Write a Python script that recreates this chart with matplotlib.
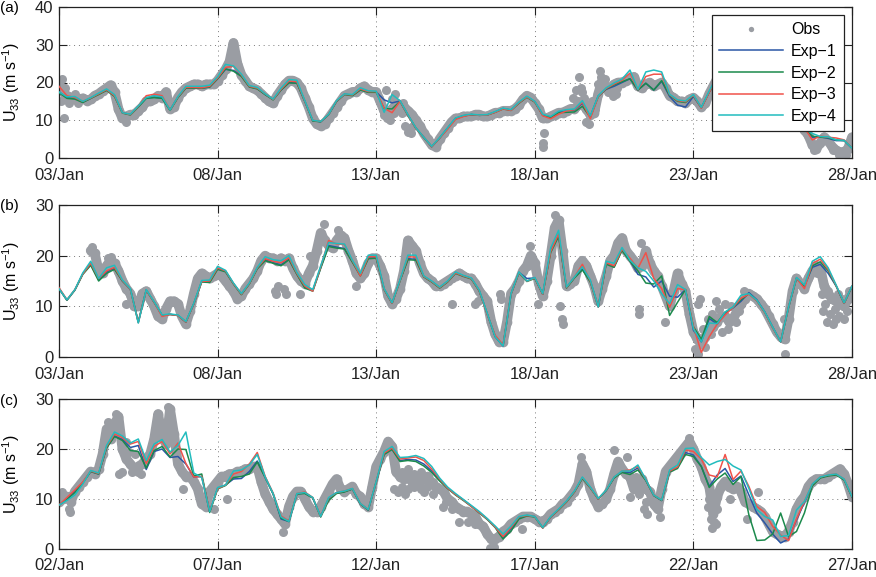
import numpy as np
import pandas as pd
import matplotlib
matplotlib.use('Agg')
import matplotlib.pyplot as plt
import matplotlib.dates as mdates

plt.rcParams['font.family'] = ['Liberation Sans', 'DejaVu Sans']
plt.rcParams['mathtext.default'] = 'regular'

# ---------------- data ----------------
start_ab = '2015-01-03'
start_c = '2015-01-02'
series_labels = ['Obs', 'Exp\u22121', 'Exp\u22122', 'Exp\u22123', 'Exp\u22124']
panel_labels = ['(a)', '(b)', '(c)']
ylabel_text = r'U$_{33}$ (m s$^{-1}$)'

# Panel (a): 6-hourly model series
a_exp1 = [17.5,16.0,15.8,14.8,15.8,17.0,18.0,16.5,12.0,11.5, 13.6,15.9,16.1,15.9,12.7,16.1,18.6,18.5,18.5,18.8,
          21.0,23.5,23.2,21.8,18.9,18.4,16.8,15.5,18.0,20.0, 19.9,15.0,9.9,9.6,11.5,15.0,16.9,16.6,18.1,17.5,
          17.5,15.4,14.6,15.1,11.4,7.9,5.5,3.0,5.3,7.9, 10.5,11.2,11.5,11.3,11.4,12.2,13.1,12.7,14.6,16.2,
          14.9,11.4,10.8,12.2,12.6,12.7,14.5,11.0,16.4,18.2, 19.0,20.0,21.0,18.0,19.8,18.0,20.3,16.3,14.0,13.5,
          16.3,13.3,17.5,20.5,21.3,20.2,18.9,17.5,16.5,15.1, 13.7,12.2,10.8,9.3,7.9,5.5,5.6,5.2,4.6,4.6, 2.6]
a_exp2 = [17.3,15.8,15.6,14.7,15.8,16.8,17.9,16.3,11.9,11.4, 13.5,15.8,16.0,15.8,12.6,16.0,18.5,18.5,18.5,18.8,
          21.0,23.6,23.0,21.6,18.8,18.3,16.8,15.4,18.0,19.9, 19.8,15.0,9.8,9.6,11.5,15.0,16.8,16.5,18.0,17.4,
          17.4,13.1,13.0,15.0,11.3,7.9,5.4,3.0,5.3,7.8, 10.4,11.1,11.5,11.3,11.4,12.1,13.0,12.6,14.5,16.1,
          14.8,11.3,10.7,12.0,12.1,12.2,13.7,10.8,16.3,18.3, 19.4,20.2,21.0,18.0,19.8,18.0,20.5,16.6,15.0,14.7,
          16.5,13.3,17.5,20.8,21.5,20.3,19.0,17.6,16.6,15.2, 13.8,12.3,10.8,9.4,7.8,5.8,5.5,5.4,4.8,4.6, 2.6]
a_exp3 = [19.0,16.5,16.0,15.0,15.9,17.0,18.1,16.5,12.0,11.5, 13.7,16.5,16.9,16.5,12.7,16.2,18.7,18.7,18.6,19.0,
          21.2,24.0,24.3,22.0,19.0,18.5,17.0,15.5,18.2,20.4, 20.2,15.1,10.0,9.7,11.6,15.1,16.9,16.7,18.3,17.6,
          17.6,13.2,12.0,15.0,11.4,7.9,5.5,3.0,5.3,7.6, 10.2,11.0,11.5,11.3,11.4,12.1,13.0,12.6,14.6,16.2,
          14.9,11.2,10.4,11.6,12.5,12.8,14.8,10.4,16.3,18.4, 19.6,20.6,22.5,18.1,21.6,22.2,22.2,16.8,15.2,14.9,
          16.6,13.2,17.4,21.2,22.0,20.6,19.2,17.8,16.8,15.3, 13.9,12.4,10.9,9.4,8.0,4.8,5.8,5.5,5.3,4.8, 2.6]
a_exp4 = [17.5,16.2,16.3,15.0,16.0,17.2,18.3,16.8,12.0,11.6, 13.8,16.0,16.5,16.2,12.7,16.3,19.0,19.0,19.0,19.3,
          21.5,24.8,24.4,22.2,19.2,18.7,17.0,15.6,18.5,20.8, 20.6,15.2,10.0,9.7,11.6,15.2,17.0,16.8,18.6,17.8,
          17.7,12.1,16.8,15.2,11.5,8.0,5.5,3.1,5.4,8.0, 10.6,11.3,11.6,11.4,11.5,12.3,13.2,12.8,14.8,16.4,
          15.0,11.6,11.0,12.4,12.8,13.0,15.2,11.2,16.5,18.6, 19.9,20.9,23.3,18.2,22.8,23.3,22.8,16.9,15.4,15.1,
          16.8,13.4,17.8,21.7,22.5,21.0,19.5,18.0,17.0,15.5, 14.0,12.5,11.0,9.5,7.8,6.5,5.7,5.6,4.8,4.7, 2.6]
# Panel (a): 3-hourly observations
a_obs = [19.5,17.5,16.5,16.0,15.5,15.5,15.8,15.2,
         15.5,16.5,17.0,17.8,18.5,19.3,17.5,13.0,
         10.5,11.0,11.5,11.5,12.5,13.5,15.0,15.0,
         15.5,16.5,16.0,17.5,13.0,13.5,16.0,17.5,
         18.5,19.0,19.5,19.5,19.0,19.5,19.5,19.5,
         20.5,22.0,23.5,25.5,30.5,25.0,22.0,20.5,
         19.0,18.5,18.0,17.0,16.0,15.0,14.5,16.5,
         18.0,19.5,20.5,20.5,20.0,18.5,16.0,13.5,
         10.5,9.0,8.5,9.0,10.5,12.0,13.5,15.0,
         16.5,17.0,17.5,17.5,18.5,19.0,18.0,17.5,
         17.5,15.0,12.5,11.5,13.0,14.0,14.0,13.5,
         12.5,11.5,10.0,8.5,6.5,5.0,3.5,3.0,
         5.0,6.5,8.0,9.5,10.5,10.5,11.0,11.0,
         11.0,11.5,11.5,11.0,11.0,11.5,12.0,12.0,
         12.5,12.5,12.5,13.0,14.0,15.5,16.5,16.0,
         14.5,13.0,10.5,10.5,11.0,11.5,12.0,12.0,
         12.5,13.0,13.0,14.0,14.5,13.0,11.5,12.0,
         17.0,20.5,18.5,18.5,19.5,20.0,20.0,20.5,
         21.0,21.5,19.0,18.5,19.5,20.0,19.0,19.5,
         20.0,18.5,16.5,16.0,15.0,15.0,14.5,15.5,
         16.0,15.0,13.5,14.5,17.0,19.0,21.0,21.5,
         21.5,21.0,20.0,19.0,18.5,18.0,17.5,17.0,
         16.5,16.0,15.0,14.5,14.0,13.0,12.5,12.0,
         10.5,10.0,9.0,8.5,7.5,6.0,3.5,2.5,
         4.0,5.5,4.5,3.0,2.0,1.5,1.5,2.5,
         5.5]
a_extra_day = [0.05,0.1,0.15,0.2,0.3,0.5,0.6,2.1,
               10.1,10.2,10.25,10.3,10.35,10.4,10.45,10.5,10.55,10.6,10.65,10.75,10.8,10.85,10.9,10.95,
               11.0,11.05,11.1,11.15,15.25,15.25,15.3,
               16.2,16.3,16.35,16.4,16.45,16.5,16.55,16.6,16.65,16.7,16.75,16.8,16.9,17.0,17.05,17.1,
               17.2,17.3,17.4,17.45,17.5,17.55,17.6,23.8,24.4,24.6,24.8]
a_extra_val = [15.0,21.0,10.5,18.5,14.5,17.0,14.5,9.5,
               16.0,13.0,11.5,18.0,10.5,11.0,10.0,15.5,12.0,17.0,14.5,13.0,12.0,14.5,8.5,12.5,
               7.0,8.0,6.5,8.5,4.0,2.8,6.5,
               16.0,18.0,15.0,21.5,18.5,17.5,16.0,9.5,14.0,9.0,12.5,15.0,13.0,19.5,23.0,21.5,
               21.0,17.5,18.0,16.5,19.0,17.0,18.5,2.0,2.0,0.8,0.8]

# Panel (b)
b_exp1 = [13.5,11.2,13.2,16.4,18.3,15.2,16.8,17.5,15.0,13.4, 6.9,13.2,10.8,8.2,8.4,8.2,6.9,10.5,14.9,14.9,
          17.5,16.9,14.5,12.4,14.5,17.5,19.2,18.6,18.2,19.3, 16.4,13.8,13.1,17.6,22.0,21.7,21.4,18.8,16.2,19.5,
          19.6,13.4,10.6,15.1,19.4,19.3,15.9,14.9,13.7,14.9, 16.6,16.0,15.5,13.1,8.5,4.0,2.2,12.4,16.7,15.5,
          15.6,12.4,21.0,24.0,13.7,15.7,17.3,15.0,9.9,18.5, 17.8,21.2,19.0,16.3,15.8,13.8,15.0,12.0,11.8,13.3,
          5.3,3.0,7.6,6.5,8.7,9.7,11.0,12.7,11.3,8.9, 5.9,3.0,9.8,15.6,14.0,17.7,18.3,16.5,14.0,10.6, 13.9]
b_exp2 = [13.5,11.2,13.2,16.3,18.1,15.0,16.5,17.3,15.0,13.4, 6.9,13.2,10.8,8.2,8.4,8.2,6.9,10.5,14.8,14.7,
          17.3,16.8,14.4,12.3,14.4,17.4,19.0,18.5,18.0,19.2, 16.3,13.6,13.0,17.5,21.8,21.5,21.3,18.7,16.0,19.4,
          19.5,13.3,10.6,15.0,19.2,19.1,15.8,14.8,13.6,14.8, 16.5,15.9,15.4,13.0,8.5,4.1,2.3,12.4,16.6,14.9,
          15.5,12.4,20.6,23.8,13.6,15.6,17.2,14.8,9.9,18.3, 17.7,21.0,18.9,17.0,14.6,14.4,16.0,8.2,10.8,13.3,
          6.0,3.5,8.0,6.8,8.8,9.8,11.3,12.5,11.1,8.8, 5.8,3.0,9.8,15.5,14.0,18.0,18.8,17.0,14.0,10.6, 13.9]
b_exp3 = [13.7,11.3,13.3,16.4,18.5,15.5,17.0,17.7,15.1,13.4, 6.8,13.2,10.8,8.0,8.4,8.2,6.9,10.5,14.9,15.0,
          17.6,17.0,14.5,12.4,14.5,17.6,19.4,18.9,18.6,19.6, 16.5,14.0,13.0,17.8,23.0,22.3,22.2,19.0,16.0,19.8,
          19.8,13.4,10.6,15.1,19.8,19.7,15.9,14.9,13.7,14.9, 16.6,16.0,15.5,13.1,8.4,4.3,2.4,12.4,16.7,15.0,
          15.6,12.4,20.8,24.3,13.7,15.8,18.3,15.0,9.9,18.6, 18.0,21.3,19.5,17.5,20.6,15.5,13.5,9.8,13.5,13.3,
          6.0,0.9,4.0,6.5,8.3,9.8,11.6,12.4,11.1,8.8, 5.8,3.0,9.9,15.6,13.5,18.5,19.3,17.3,14.1,10.6, 14.0]
b_exp4 = [13.5,11.3,13.3,16.6,18.9,15.5,17.6,18.1,15.2,13.5, 6.7,13.3,10.9,8.3,8.5,8.3,7.0,10.6,15.1,15.2,
          17.9,17.1,14.6,12.5,14.6,17.7,19.8,19.2,19.0,20.0, 16.7,14.3,13.3,18.0,22.6,22.4,22.3,19.1,16.5,20.1,
          20.1,13.5,10.7,15.2,20.1,20.1,16.0,15.0,13.8,15.0, 16.8,16.1,15.6,13.2,8.6,4.0,2.2,12.5,16.8,15.0,
          15.7,12.5,21.5,25.0,13.8,15.8,17.8,15.2,9.9,18.9, 18.5,21.6,19.1,17.6,16.9,15.0,12.5,10.5,14.3,13.3,
          5.6,3.0,6.7,6.6,8.9,9.9,12.2,12.5,11.2,8.9, 5.9,3.0,9.9,15.7,14.2,18.9,19.8,17.6,14.2,10.7, 14.0]
nan = float('nan')
b_obs = [nan,nan,nan,nan,nan,nan,nan,nan,
         21.0,20.5,17.0,16.5,18.0,19.0,18.5,17.0,
         15.0,13.5,12.5,10.0,10.0,12.5,13.0,11.5,
         10.0,8.0,7.5,9.5,11.0,11.0,10.5,8.0,
         6.5,9.0,12.5,15.5,16.5,16.0,15.5,16.0,
         16.5,16.0,15.0,14.0,13.0,11.5,12.0,13.5,
         14.5,15.5,17.0,19.0,20.0,19.5,19.5,19.0,
         19.5,19.0,19.5,17.5,16.0,15.0,14.5,16.5,
         18.0,21.0,24.5,23.0,22.0,21.5,23.0,24.0,
         23.5,21.0,19.0,16.5,15.5,16.5,18.5,19.5,
         19.5,18.0,16.0,12.0,10.5,11.5,13.5,17.0,
         23.0,22.0,21.0,18.5,16.5,15.5,15.0,14.0,
         14.0,14.5,15.0,15.5,16.0,16.5,16.0,15.5,
         15.5,14.5,13.0,12.0,11.0,7.0,4.5,3.0,
         3.0,7.0,12.5,13.5,15.0,17.0,18.0,20.0,
         18.5,14.5,12.0,15.0,20.0,25.5,27.0,21.0,
         14.0,14.5,15.0,18.0,19.0,18.0,16.0,14.0,
         11.0,13.5,16.0,19.0,20.0,22.5,23.5,21.0,
         20.0,19.0,17.5,18.0,21.0,18.5,17.0,16.0,
         14.0,12.0,10.0,13.0,16.5,14.5,13.0,8.5,
         5.0,3.5,2.5,4.0,5.0,6.0,7.0,8.0,
         8.0,7.0,7.5,9.0,10.5,11.5,12.5,12.0,
         11.5,10.5,9.5,8.0,6.5,5.0,4.0,3.5,
         7.5,13.0,15.5,14.5,13.5,15.5,17.0,18.0,
         17.5,14.0,12.5,11.5,11.0,10.5,10.0,11.5,
         13.0]
b_extra_day = [1.05,1.1,1.55,1.65,2.1,6.8,6.85,6.9,7.1,7.15,7.6,7.9,8.35,8.8,9.35,12.4,13.1,13.2,
               13.9,13.95,14.85,15.1,15.65,15.8,15.85,15.9,18.3,18.3,18.35,19.1,
               20.05,20.1,20.15,20.15,20.2,20.3,20.35,20.45,20.55,20.6,20.7,20.8,20.9,21.0,21.1,21.2,
               21.35,21.45,21.6,22.85,22.9,23.9,
               24.05,24.1,24.15,24.2,24.25,24.3,24.35,24.4,24.45,24.5,24.55,24.6,24.7,24.75,24.85,24.9]
b_extra_val = [21.8,20.5,19.5,19.8,10.5,13.0,12.5,14.0,13.5,12.5,12.5,20.0,26.3,25.0,14.0,10.5,10.5,11.0,
               12.5,11.5,22.0,10.5,28.0,10.0,7.5,6.5,8.5,9.5,22.5,7.0,
               1.5,4.0,10.5,0.5,11.5,5.5,2.0,7.5,4.5,8.5,11.0,9.5,5.0,10.5,5.5,10.0,
               7.0,9.0,13.0,7.5,0.5,16.5,
               12.5,9.0,10.5,7.0,13.0,8.5,11.5,6.5,9.5,7.5,12.5,8.0,11.5,7.5,9.0,13.0]

# Panel (c)
c_exp1 = [8.8,10.0,11.5,13.3,15.5,15.0,20.3,22.6,21.9,20.3, 20.7,15.9,19.5,20.0,18.3,18.5,17.0,14.4,14.5,7.5,
          12.1,12.8,14.0,14.1,15.5,17.6,14.3,11.0,6.0,5.5, 11.0,11.2,10.2,6.5,10.0,11.2,11.5,12.0,9.0,7.8,
          13.4,19.0,20.0,17.7,17.9,17.8,17.0,15.6,13.8,12.2, 10.9,9.8,8.6,7.3,6.0,4.4,2.3,4.1,6.2,6.7,
          6.5,4.2,6.4,7.9,9.5,11.5,14.2,12.3,10.0,11.7, 14.3,15.4,15.3,16.2,13.8,10.7,9.7,15.5,16.3,19.3,
          18.8,16.5,12.5,14.8,16.1,13.5,14.6,10.8,7.2,5.2, 3.0,1.2,2.0,5.8,9.3,12.8,14.3,14.7,14.9,13.9, 10.4]
c_exp2 = [8.8,9.9,11.3,13.2,15.5,15.0,20.2,22.5,21.7,19.7, 19.5,16.2,19.7,20.5,18.4,20.0,19.9,14.6,15.0,7.3,
          12.0,12.7,14.3,14.5,15.0,17.4,14.3,11.0,6.2,5.5, 11.0,11.1,10.2,6.4,9.7,11.1,11.4,12.0,9.0,7.8,
          13.4,18.9,19.9,17.5,17.7,17.5,16.6,15.3,13.6,12.1, 10.8,9.7,8.5,7.2,5.9,4.3,2.0,3.6,6.0,6.6,
          6.4,4.2,6.4,7.8,9.4,11.4,14.1,12.2,10.0,11.7, 14.2,15.3,14.9,15.8,13.7,10.7,9.7,15.4,16.1,18.9,
          18.5,16.5,12.3,14.0,15.2,12.9,14.5,6.8,1.7,1.8, 3.0,7.2,2.5,3.5,7.2,12.6,14.2,14.6,14.8,13.8, 10.4]
c_exp3 = [8.8,10.3,11.8,13.4,15.6,15.1,20.5,23.0,22.3,21.0, 21.5,17.1,20.5,21.5,19.0,21.2,17.1,14.4,14.5,7.6,
          12.1,12.8,15.0,15.5,17.0,19.3,14.5,11.2,6.6,5.6, 11.1,11.4,10.3,6.5,10.2,11.3,11.6,12.1,9.1,7.9,
          13.5,19.2,20.2,18.0,18.2,18.4,17.7,16.0,14.0,12.2, 10.9,9.8,8.5,7.3,6.0,4.4,2.5,4.3,6.4,6.7,
          6.5,4.2,6.4,7.9,9.5,11.5,14.3,12.3,10.0,11.8, 14.4,15.6,15.8,16.5,13.9,10.8,9.8,15.6,16.4,19.8,
          19.5,18.0,14.8,14.4,18.9,13.9,15.6,12.5,8.5,7.3, 4.5,2.8,1.7,6.0,9.5,13.0,14.4,14.8,15.0,14.0, 10.5]
c_exp4 = [8.8,9.7,10.8,13.0,15.7,15.2,20.7,23.4,22.6,21.2, 22.0,17.7,21.0,21.9,19.4,20.7,23.4,15.2,14.3,7.5,
          12.3,12.8,15.6,15.8,16.8,18.9,14.4,11.1,6.4,5.5, 11.1,11.3,10.3,6.5,10.3,11.3,11.6,12.1,9.1,7.9,
          13.5,19.5,20.5,18.3,18.4,18.7,18.1,16.5,14.2,12.4, 11.1,9.9,8.7,7.5,6.1,4.6,3.0,4.6,6.5,6.8,
          6.5,4.3,6.5,8.0,9.6,11.6,14.4,12.4,10.1,11.8, 14.4,15.6,15.6,16.8,13.9,10.8,9.8,15.8,16.8,20.1,
          20.2,18.3,16.8,17.5,17.9,16.6,15.8,12.1,7.9,6.5, 5.8,2.5,2.7,7.8,9.5,13.0,14.4,14.8,15.0,14.0, 10.5]
c_obs = [9.5,10.0,10.5,9.5,11.5,12.5,13.5,14.5,
         15.5,15.0,16.0,19.0,24.0,22.0,25.0,26.5,
         20.0,18.0,17.0,16.0,16.5,17.0,18.0,19.0,
         22.0,27.0,22.5,21.0,28.0,23.0,17.0,15.5,
         14.5,14.5,13.5,12.0,9.0,8.5,11.5,12.5,
         13.5,14.5,14.5,15.0,15.0,15.5,15.5,16.0,
         16.0,16.5,16.5,13.5,11.0,9.5,8.0,7.0,
         6.0,5.0,8.5,10.5,11.5,11.5,10.0,8.5,
         7.5,7.5,8.5,10.0,11.5,13.0,14.0,12.0,
         11.5,12.0,12.5,11.0,10.5,9.0,8.5,12.5,
         16.5,18.0,19.5,21.5,20.5,15.5,14.5,14.0,
         14.5,13.5,14.0,13.5,14.0,14.5,13.0,12.5,
         12.0,11.5,10.0,9.5,8.5,8.0,7.5,7.5,
         7.0,6.5,5.0,4.5,3.0,2.0,2.0,2.5,
         3.5,4.0,5.0,5.5,6.0,6.5,6.5,6.5,
         6.0,5.5,5.5,6.0,7.0,7.5,8.0,9.0,
         9.5,10.5,11.5,13.0,17.0,15.5,12.0,10.0,
         8.5,9.0,10.0,12.0,15.0,17.5,16.0,15.0,
         14.5,12.0,12.5,14.0,12.0,11.5,9.0,8.0,
         12.0,15.5,16.5,17.5,18.5,19.5,20.5,21.5,
         20.0,18.0,16.5,14.0,12.5,7.0,10.5,12.5,
         13.5,12.5,12.0,12.5,11.5,9.5,9.0,8.5,
         8.0,7.5,6.5,5.0,3.5,3.0,2.5,2.5,
         3.5,5.5,8.0,9.5,10.5,12.5,13.5,14.0,
         14.0,14.0,14.5,15.0,15.5,16.0,15.0,13.0,
         10.5]
c_extra_day = [0.1,0.3,0.35,1.55,1.8,1.9,2.0,2.1,2.2,2.3,2.4,2.5,2.6,3.1,3.45,3.9,4.6,4.9,5.3,7.05,
               10.55,10.6,10.7,10.8,10.8,10.9,11.0,11.0,11.2,11.2,11.4,11.4,11.5,11.6,11.6,11.8,11.8,
               12.1,12.2,12.4,12.6,12.9,13.1,13.6,13.7,14.6,16.45,17.5,17.9,18.0,18.2,18.3,18.4,18.45,
               18.5,18.55,18.95,19.85,20.45,20.5,20.55,20.6,20.65,20.7,20.75,21.15,21.7,22.05]
c_extra_val = [11.5,8.0,7.5,25.5,27.0,15.0,15.5,21.5,19.5,15.5,19.0,15.5,15.0,26.0,28.5,12.0,10.5,8.0,10.0,3.5,
               12.0,16.0,11.5,12.5,15.5,11.0,12.0,16.0,12.5,15.0,12.0,15.5,11.5,12.5,14.5,11.0,13.5,
               8.5,9.5,8.0,5.5,5.5,5.0,0.3,0.5,4.0,18.5,19.8,18.5,10.5,14.5,11.0,13.5,8.0,
               9.5,7.0,6.5,22.3,8.5,10.0,6.0,4.2,5.5,5.0,8.0,10.0,6.0,11.5]

panels = [
    dict(start=start_ab, exps=[a_exp1, a_exp2, a_exp3, a_exp4], obs=a_obs,
         xd=a_extra_day, xv=a_extra_val, ymax=40, yticks=[0, 10, 20, 30, 40]),
    dict(start=start_ab, exps=[b_exp1, b_exp2, b_exp3, b_exp4], obs=b_obs,
         xd=b_extra_day, xv=b_extra_val, ymax=30, yticks=[0, 10, 20, 30]),
    dict(start=start_c, exps=[c_exp1, c_exp2, c_exp3, c_exp4], obs=c_obs,
         xd=c_extra_day, xv=c_extra_val, ymax=30, yticks=[0, 10, 20, 30]),
]

# ---------------- style ----------------
obs_color = '#9a9da3'
exp_colors = ['#2a56a6', '#1b8a4c', '#f0524a', '#22bcbe']
W, H = 876, 577
ax_px = [(7, 158), (205, 357), (399, 549)]   # top, bottom in pixels
xpads = [7.5, 7.5, 6.2]
left_px, right_px = 59, 852
label_tops = [1, 199, 394]

fig = plt.figure(figsize=(W / 100, H / 100), dpi=100)

for k, (p, (top, bot)) in enumerate(zip(panels, ax_px)):
    ax = fig.add_axes([left_px / W, 1 - bot / H, (right_px - left_px) / W, (bot - top) / H])
    n6 = len(p['exps'][0])
    n3 = len(p['obs'])
    t6 = pd.date_range(p['start'], periods=n6, freq='6h')
    t3 = pd.date_range(p['start'], periods=n3, freq='3h')
    tx = pd.Timestamp(p['start']) + pd.to_timedelta(np.array(p['xd']), unit='D')

    # observation band: dots joined by a thick trace of the same colour
    ax.plot(t3, p['obs'], '-', lw=7, color=obs_color, solid_capstyle='round',
            solid_joinstyle='round', zorder=2)
    h_obs, = ax.plot(t3, p['obs'], 'o', ms=7, color=obs_color, mec='none', label=series_labels[0], zorder=2)
    ax.plot(tx, p['xv'], 'o', ms=6.5, color=obs_color, mec='none', zorder=2)
    handles = [h_obs]
    for s, (vals, col) in enumerate(zip(p['exps'], exp_colors)):
        h, = ax.plot(t6, vals, '-', color=col, lw=1.1, label=series_labels[s + 1], zorder=3 + s)
        handles.append(h)

    ax.set_xlim(t6[0], t6[-1])
    ax.set_ylim(0, p['ymax'])
    ax.set_yticks(p['yticks'])
    ax.set_xticks(pd.date_range(p['start'], periods=6, freq='5D'))
    ax.xaxis.set_major_formatter(mdates.DateFormatter('%d/%b'))
    ax.grid(True, linestyle=(0, (1, 4)), color='#7a7a7a', linewidth=0.7, zorder=1)
    ax.set_axisbelow(True)
    ax.tick_params(direction='in', length=5.5, width=0.8, top=True, right=True,
                   labelsize=12, colors='#222222')
    ax.tick_params(axis='x', pad=xpads[k])
    ax.tick_params(axis='y', pad=4)
    for sp in ax.spines.values():
        sp.set_linewidth(0.9)
        sp.set_color('#222222')
    ax.set_ylabel(ylabel_text, fontsize=11.5)
    ax.yaxis.set_label_coords(-0.047, 0.5)
    fig.text(0.0, 1 - label_tops[k] / H, panel_labels[k], ha='left', va='top', fontsize=11)

    if k == 0:
        leg = ax.legend(handles=handles, loc='upper right', fontsize=11.5, frameon=True,
                        fancybox=False, framealpha=1, edgecolor='#222222', handlelength=4.0,
                        labelspacing=0.42, borderaxespad=0.5, borderpad=0.45, handletextpad=0.5,
                        numpoints=1, markerscale=0.55)
        leg.get_frame().set_linewidth(0.9)
        leg.set_zorder(10)

fig.savefig('out.png', dpi=100)
